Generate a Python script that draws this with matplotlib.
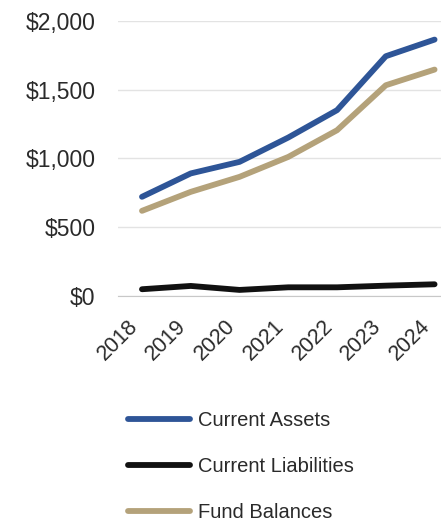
import matplotlib.pyplot as plt
from matplotlib.ticker import FuncFormatter

years = ["2018", "2019", "2020", "2021", "2022", "2023", "2024"]
current_assets = [721, 891, 975, 1152, 1351, 1743, 1864]
current_liabilities = [49, 73, 44, 63, 63, 75, 85]
fund_balances = [619, 757, 866, 1011, 1205, 1532, 1646]

plt.rcParams["font.family"] = ["Liberation Sans", "DejaVu Sans"]

fig = plt.figure(figsize=(4.41, 5.22), dpi=100)
ax = fig.add_axes([0.2667, 0.433, 0.774, 0.527])

x = range(len(years))
ax.plot(x, current_assets, color="#2E5597", lw=4.2, label="Current Assets", solid_capstyle="round")
ax.plot(x, current_liabilities, color="#111111", lw=4.2, label="Current Liabilities", solid_capstyle="round")
ax.plot(x, fund_balances, color="#B4A27A", lw=4.2, label="Fund Balances", solid_capstyle="round")

ax.set_xlim(-0.5, len(years) - 0.5)
ax.set_ylim(0, 2000)
ax.set_yticks([0, 500, 1000, 1500, 2000])
ax.yaxis.set_major_formatter(FuncFormatter(lambda v, p: f"${v:,.0f}"))
ax.set_xticks(list(x))
ax.set_xticklabels(years, rotation=45, ha="right", va="bottom", rotation_mode="anchor")

ax.grid(axis="y", color="#E3E3E3", lw=1)
ax.set_axisbelow(True)
for s in ["top", "right", "left"]:
    ax.spines[s].set_visible(False)
ax.spines["bottom"].set_color("#C8C8C8")
ax.tick_params(axis="y", length=0, pad=16, labelsize=16.5, colors="#2a2a2a")
ax.tick_params(axis="x", length=0, pad=25, labelsize=15.5, colors="#2a2a2a")

fig.legend(loc="upper left", bbox_to_anchor=(0.29, 0.212), frameon=False,
           fontsize=14.5, handlelength=3.1, handletextpad=0.4, labelspacing=1.33,
           borderpad=0, borderaxespad=0, labelcolor="#2a2a2a")

fig.savefig("out.png", dpi=100)
